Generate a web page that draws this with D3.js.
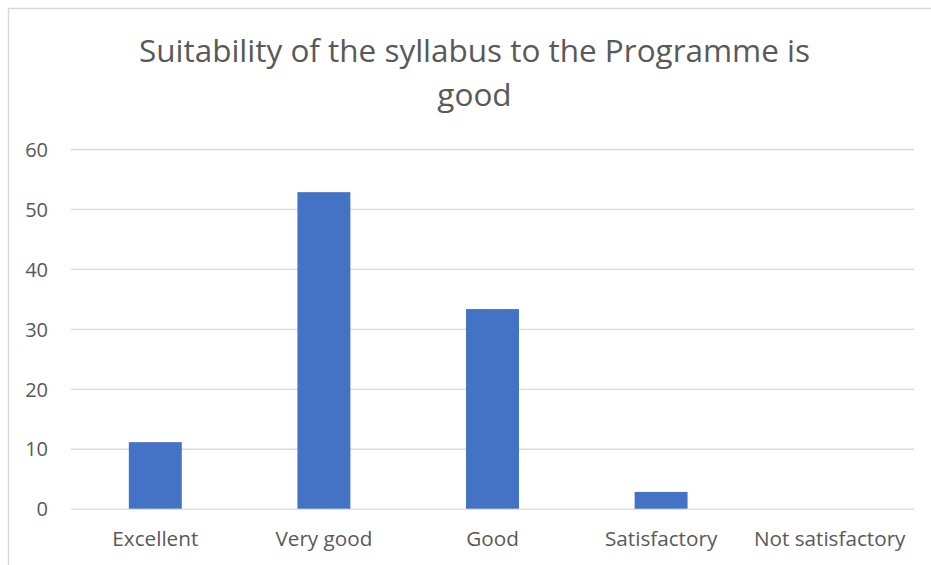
<!DOCTYPE html>
<html>
<head>
<meta charset="utf-8">
<script src="https://cdn.jsdelivr.net/npm/d3@7"></script>
<style>
  html, body { margin: 0; padding: 0; background: #fff; }
  svg { display: block; }
  text { font-family: "Open Sans", "Noto Sans", sans-serif; fill: #595959; }
</style>
</head>
<body>
<svg id="chart" width="931" height="565"></svg>
<script>
const titleLines = ["Suitability of the syllabus to the Programme is", "good"];
const categories = ["Excellent", "Very good", "Good", "Satisfactory", "Not satisfactory"];
const values = [11.1, 52.8, 33.3, 2.8, 0];
const yTicks = [0, 10, 20, 30, 40, 50, 60];

const svg = d3.select("#chart");
const W = 931, H = 565;
const margin = { left: 71, right: 17, top: 149, bottom: 56 };

svg.append("rect").attr("x", 8.5).attr("y", 8.5).attr("width", W + 10).attr("height", H + 10)
  .attr("fill", "#fff").attr("stroke", "#d9d9d9").attr("stroke-width", 1.5);

const x = d3.scaleBand().domain(categories)
  .range([margin.left, W - margin.right]).paddingInner(0.686).paddingOuter(0.343);
const y = d3.scaleLinear().domain([0, 60]).range([H - margin.bottom - 0.3, margin.top]);

// gridlines
const grid = svg.append("g")
  .attr("transform", `translate(${margin.left},0)`)
  .call(d3.axisLeft(y).tickValues(yTicks).tickSize(-(W - margin.right - margin.left)).tickFormat(""));
grid.select(".domain").remove();
grid.selectAll("line").attr("stroke", "#d9d9d9").attr("stroke-width", 1.3);

// y labels
const yAx = svg.append("g")
  .attr("transform", `translate(48,0)`)
  .call(d3.axisLeft(y).tickValues(yTicks).tickSize(0).tickPadding(0));
yAx.select(".domain").remove();
yAx.selectAll("text").attr("font-size", "20px").attr("fill", "#595959")
  .attr("text-anchor", "end").attr("dy", "0.36em");

// bars
svg.append("g").selectAll("rect").data(values).join("rect")
  .attr("x", (d, i) => x(categories[i]))
  .attr("width", x.bandwidth())
  .attr("y", d => y(d))
  .attr("height", d => y(0) - y(d))
  .attr("fill", "#4472C4");

// x labels
const xAx = svg.append("g")
  .attr("transform", `translate(0,${y(0)})`)
  .call(d3.axisBottom(x).tickSize(0).tickPadding(0));
xAx.select(".domain").remove();
xAx.selectAll("text").attr("font-size", "20.7px").attr("fill", "#595959")
  .attr("dy", null).attr("y", 37);

// title
svg.append("g").selectAll("text").data(titleLines).join("text")
  .attr("x", 474.5)
  .attr("y", (d, i) => 61.7 + i * 44.5)
  .attr("text-anchor", "middle")
  .attr("font-size", "31.5px")
  .attr("font-weight", 400)
  .attr("textLength", (d, i) => i === 0 ? 671 : null)
  .attr("lengthAdjust", "spacingAndGlyphs")
  .text(d => d);
</script>
</body>
</html>
